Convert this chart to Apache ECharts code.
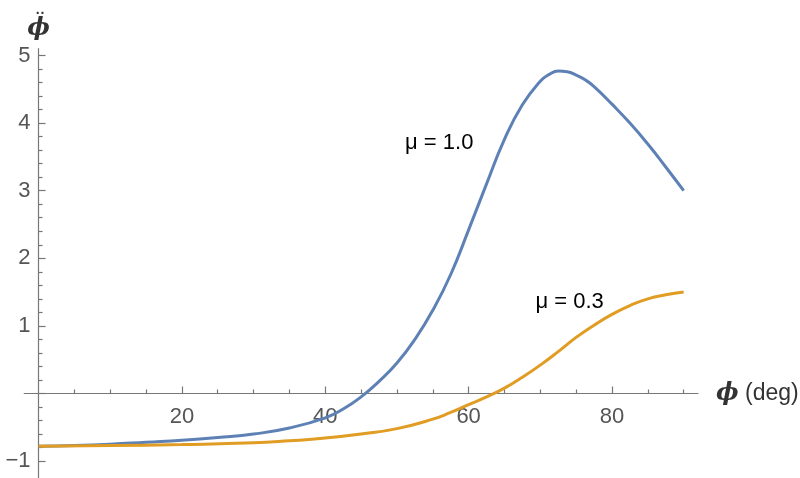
<!DOCTYPE html>
<html>
<head>
<meta charset="utf-8">
<script src="https://cdn.jsdelivr.net/npm/echarts@6/dist/echarts.min.js"></script>
<style>
html,body{margin:0;padding:0;background:#fff;}
#chart{width:800px;height:478px;}
</style>
</head>
<body>
<div id="chart"></div>
<script>
// ---- data ----
const phiDegMu10 = [0, 5, 10, 15, 20, 25, 30, 35, 40, 42.5, 45, 47.5, 50, 52.5, 55, 57.5, 60, 62.5, 65, 67.5, 70, 71.25, 72.5, 73.75, 75, 76.25, 77.5, 80, 82.5, 85, 87.5, 90];
const phiDDotMu10 = [-0.78, -0.77, -0.75, -0.72, -0.69, -0.65, -0.60, -0.51, -0.36, -0.23, -0.05, 0.18, 0.45, 0.80, 1.23, 1.76, 2.42, 3.10, 3.76, 4.27, 4.62, 4.72, 4.77, 4.76, 4.71, 4.64, 4.54, 4.28, 4.00, 3.69, 3.35, 3.00];

const phiDegMu03 = [0, 10, 20, 30, 35, 40, 45, 50, 55, 57.5, 60, 62.5, 65, 67.5, 70, 72.5, 75, 77.5, 80, 82.5, 85, 87.5, 90];
const phiDDotMu03 = [-0.78, -0.77, -0.755, -0.73, -0.70, -0.66, -0.60, -0.52, -0.38, -0.28, -0.165, -0.05, 0.08, 0.24, 0.42, 0.62, 0.83, 1.01, 1.17, 1.30, 1.40, 1.46, 1.50];

const seriesNames = ['μ = 1.0', 'μ = 0.3'];

const xMajorTicks = [20, 40, 60, 80];
const xMinorTicks = [5, 10, 15, 25, 30, 35, 45, 50, 55, 65, 70, 75, 85, 90];
const yMajorTicks = [-1, 0, 1, 2, 3, 4, 5];
const yLabelTicks = [-1, 1, 2, 3, 4, 5];
const yMinorTicks = [-0.8, -0.6, -0.4, -0.2, 0.2, 0.4, 0.6, 0.8, 1.2, 1.4, 1.6, 1.8, 2.2, 2.4, 2.6, 2.8, 3.2, 3.4, 3.6, 3.8, 4.2, 4.4, 4.6, 4.8];

// annotation anchors in data space
const labelMu10At = [55.9, 3.71];
const labelMu03At = [74.1, 1.35];

// ---- chart ----
const W = 800, H = 478;
const gridBox = {left: 24.2, right: 102, top: 48.7, bottom: 0};
const xRange = [-2, 92];
const yRange = [-1.25, 5.1];
const gridW = W - gridBox.left - gridBox.right;
const gridH = H - gridBox.top - gridBox.bottom;
// axes cross at the origin (Mathematica style): shift them from the grid edge to zero
const xAxisOffset = -((0 - yRange[0]) / (yRange[1] - yRange[0])) * gridH;
const yAxisOffset = -((0 - xRange[0]) / (xRange[1] - xRange[0])) * gridW;

const axisGray = '#777777';
const labelGray = '#555555';
const fontFam = '"Liberation Sans", Arial, Helvetica, sans-serif';

const pairs = (xs, ys) => xs.map((x, i) => [x, ys[i]]);

const chart = echarts.init(document.getElementById('chart'), null, {renderer: 'canvas'});

const option = {
  animation: false,
  backgroundColor: '#ffffff',
  grid: Object.assign({containLabel: false, outerBoundsMode: 'none'}, gridBox),
  xAxis: [
    {
      type: 'value', min: xRange[0], max: xRange[1], position: 'bottom', offset: xAxisOffset,
      axisLine: {show: true, onZero: false, lineStyle: {color: axisGray, width: 1.2}},
      axisTick: {show: true, inside: true, length: 7, customValues: xMajorTicks, lineStyle: {color: axisGray, width: 1.2}},
      axisLabel: {show: true, customValues: xMajorTicks, color: labelGray, fontSize: 22, fontFamily: fontFam, margin: 12},
      splitLine: {show: false},
      name: '{p|ϕ} (deg)',
      nameLocation: 'end',
      nameGap: 18,
      nameTextStyle: {
        color: '#333333', fontSize: 23, fontFamily: fontFam,
        rich: {p: {fontSize: 24, fontStyle: 'italic', fontWeight: 'bold', fontFamily: '"DejaVu Serif", serif', color: '#333333'}}
      }
    },
    {
      type: 'value', min: xRange[0], max: xRange[1], position: 'bottom', offset: xAxisOffset,
      axisLine: {show: false, onZero: false},
      axisTick: {show: true, inside: true, length: 4, customValues: xMinorTicks, lineStyle: {color: axisGray, width: 1.2}},
      axisLabel: {show: false},
      splitLine: {show: false}
    }
  ],
  yAxis: [
    {
      type: 'value', min: yRange[0], max: yRange[1], position: 'left', offset: yAxisOffset,
      axisLine: {show: true, onZero: false, lineStyle: {color: axisGray, width: 1.2}},
      axisTick: {show: true, inside: true, length: 7, customValues: yMajorTicks, lineStyle: {color: axisGray, width: 1.2}},
      axisLabel: {
        show: true, customValues: yLabelTicks, color: labelGray, fontSize: 22, fontFamily: fontFam, margin: 8,
        formatter: v => (v < 0 ? '\u2212' + Math.abs(v) : String(v))
      },
      splitLine: {show: false},
      name: '{d|··}\n{p|ϕ}',
      nameLocation: 'end',
      nameGap: 8,
      nameTextStyle: {
        color: '#333333', align: 'center', verticalAlign: 'bottom',
        rich: {
          d: {fontSize: 14, lineHeight: 6, fontWeight: 'bold', color: '#333333', align: 'center', padding: [0, 0, 0, 4]},
          p: {fontSize: 24, lineHeight: 24, fontStyle: 'italic', fontWeight: 'bold', fontFamily: '"DejaVu Serif", serif', color: '#333333', align: 'center'}
        }
      }
    },
    {
      type: 'value', min: yRange[0], max: yRange[1], position: 'left', offset: yAxisOffset,
      axisLine: {show: false, onZero: false},
      axisTick: {show: true, inside: true, length: 4, customValues: yMinorTicks, lineStyle: {color: axisGray, width: 1.2}},
      axisLabel: {show: false},
      splitLine: {show: false}
    }
  ],
  series: [
    {
      name: seriesNames[0], type: 'line', xAxisIndex: 0, yAxisIndex: 0,
      data: pairs(phiDegMu10, phiDDotMu10),
      smooth: 0.5, showSymbol: false,
      lineStyle: {color: '#5E81B5', width: 3},
      markPoint: {
        symbol: 'circle', symbolSize: 0,
        label: {show: true, position: 'inside', color: '#000000', fontSize: 22, fontFamily: fontFam},
        data: [{coord: labelMu10At, value: seriesNames[0], label: {formatter: seriesNames[0]}}]
      }
    },
    {
      name: seriesNames[1], type: 'line', xAxisIndex: 0, yAxisIndex: 0,
      data: pairs(phiDegMu03, phiDDotMu03),
      smooth: 0.5, showSymbol: false,
      lineStyle: {color: '#E19C24', width: 3},
      markPoint: {
        symbol: 'circle', symbolSize: 0,
        label: {show: true, position: 'inside', color: '#000000', fontSize: 22, fontFamily: fontFam},
        data: [{coord: labelMu03At, value: seriesNames[1], label: {formatter: seriesNames[1]}}]
      }
    }
  ]
};
chart.setOption(option);
</script>
</body>
</html>
